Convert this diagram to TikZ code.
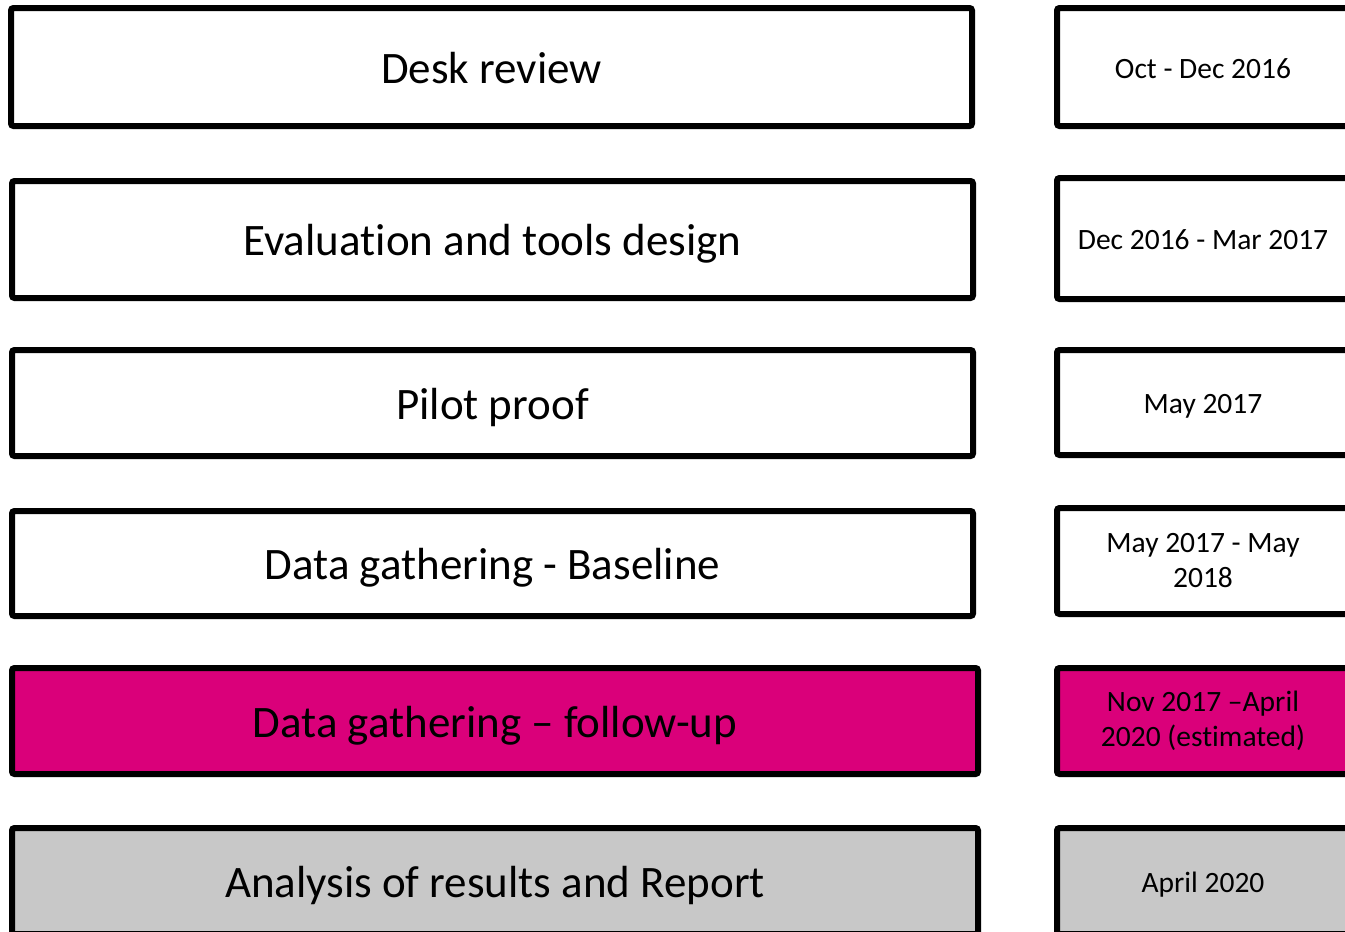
\documentclass[tikz,border=0pt]{standalone}
\usepackage{fontspec}
\setmainfont{Carlito}[Ligatures=NoCommon]
\usepackage{tikz}

\definecolor{followup}{RGB}{218,0,122}
\definecolor{reportgrey}{RGB}{200,200,200}

\tikzset{
  phase/.style={draw=black, line width=6pt, rounded corners=2.5pt, fill=white,
    inner sep=0pt, align=center, text height=32pt, text depth=0pt,
    font=\fontsize{45}{54}\selectfont},
  period/.style={phase, minimum width=292pt, text height=22pt,
    font=\fontsize{29.5}{35}\selectfont},
  twolines/.style={text height=, text depth=, yshift=0pt},
}

\begin{document}
\begin{tikzpicture}[x=1pt, y=-1pt]
            % page frame
            \useasboundingbox (0,0) rectangle (1345,932);
            \clip (0,0) rectangle (1345,932);

            % phases, left column
            \node[phase, minimum width=961pt, minimum height=118pt] (desk) at (491.5,67) {Desk review};
            \node[phase, minimum width=961pt, minimum height=117pt] (design) at (492.5,239.5) {Evaluation and tools design};
            \node[phase, minimum width=961pt, minimum height=106pt] (pilot) at (492.5,403) {Pilot proof};
            \node[phase, minimum width=961pt, minimum height=105pt] (baseline) at (492.5,563.5) {Data gathering - Baseline};
            \node[phase, fill=followup, minimum width=966pt, minimum height=106pt] (followup) at (495,721) {Data gathering -- follow-up};
            \node[phase, fill=reportgrey, minimum width=966pt, minimum height=106pt] (report) at (495,881) {Analysis of results and Report};

            % dates, right column
            \node[period, minimum height=118pt] (deskdate) at (1203,67) {Oct - Dec 2016};
            \node[period, minimum height=121pt] (designdate) at (1203,238.5) {Dec 2016 - Mar 2017};
            \node[period, minimum height=105pt] (pilotdate) at (1203,402.5) {May 2017};
            \node[period, twolines, minimum height=106pt] (baselinedate) at (1203,561) {May 2017 - May\\2018};
            \node[period, twolines, fill=followup, minimum height=106pt] (followupdate) at (1203,721) {Nov 2017 --April\\2020 (estimated)};
            \node[period, fill=reportgrey, minimum height=106pt] (reportdate) at (1203,881) {April 2020};

\end{tikzpicture}
\end{document}
